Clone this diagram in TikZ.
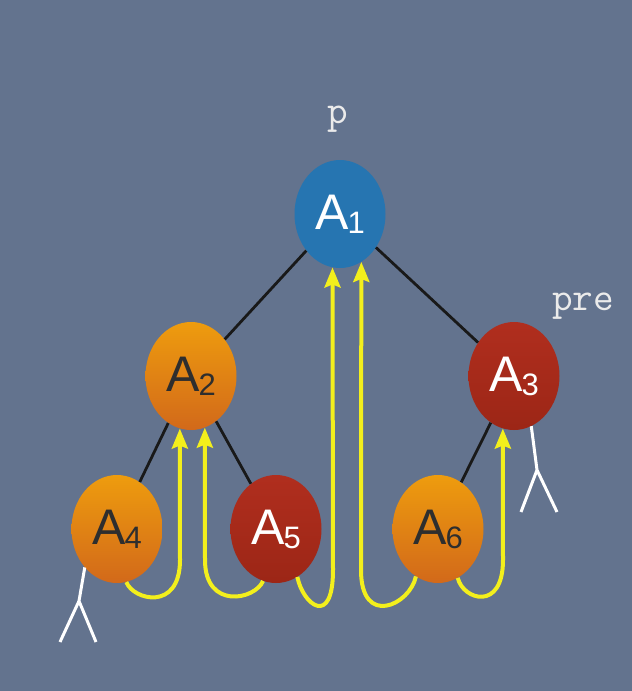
\documentclass[tikz,border=0pt]{standalone}
\usepackage{fontspec}
\newfontfamily\keyfont{Liberation Sans}
\usetikzlibrary{shapes.geometric,arrows.meta}
\definecolor{slate}{HTML}{63738E}
\definecolor{rootblue}{HTML}{2675B1}
\definecolor{ambertop}{HTML}{EE9C0E}
\definecolor{amberbot}{HTML}{D2691A}
\definecolor{rusttop}{HTML}{B02E1E}
\definecolor{rustbot}{HTML}{9C2616}
\definecolor{traceyellow}{HTML}{F3EF1C}
\newcommand{\keyname}[1]{A\kern-1pt{\fontsize{31}{31}\selectfont\raisebox{-4pt}{#1}}}

\begin{document}
\begin{tikzpicture}[x=1pt, y=-1pt,
  vert/.style={ellipse, minimum width=91pt, minimum height=108pt, inner sep=0pt, font=\keyfont\fontsize{50}{50}\selectfont},
  bluevert/.style={vert, fill=rootblue, text=white},
  ambervert/.style={vert, top color=ambertop, bottom color=amberbot, text=black!82},
  rustvert/.style={vert, top color=rusttop, bottom color=rustbot, text=white},
  treeedge/.style={line width=2.8pt, black!90},
  trace/.style={line width=4pt, traceyellow, -{Stealth[length=20pt, width=16pt, inset=3pt]}},
  stick/.style={line width=3pt, white},
  ptrlabel/.style={text=black!8, font=\ttfamily\fontsize{40}{40}\selectfont, inner sep=0pt}]
\useasboundingbox (0,0) rectangle (632,691);
\fill[slate] (0,0) rectangle (632,691);

\node[bluevert] (A1) at (340,214) {\keyname{1}};
\node[ambervert] (A2) at (191,376) {\keyname{2}}; \node[rustvert] (A3) at (514,376) {\keyname{3}};
\node[ambervert] (A4) at (117,529) {\keyname{4}}; \node[rustvert] (A5) at (276,529) {\keyname{5}}; \node[ambervert] (A6) at (438,529) {\keyname{6}};
\node[ptrlabel] (p) at (338,119) {p}; \node[ptrlabel] (pre) at (583,306) {pre};

\draw[treeedge] (A1) -- (A2); \draw[treeedge] (A1) -- (A3);
\draw[treeedge] (A2) -- (A4); \draw[treeedge] (A2) -- (A5); \draw[treeedge] (A3) -- (A6);

\draw[trace] (A4.-80) .. controls (133,600) and (180,612) .. (180,560) -- (A2.-102);
\draw[trace] (A5.-104) .. controls (255,600) and (205,610) .. (205,560) -- (A2.-75);
\draw[trace] (A5.-66) .. controls (303,605) and (333,628) .. (333,570) -- (A1.-98);
\draw[trace] (A6.-115) .. controls (410,605) and (361,628) .. (361,570) -- (A1.-66);
\draw[trace] (A6.-68) .. controls (463,600) and (503,612) .. (503,560) -- (A3.-102);

\coordinate (fork4) at (79,601); \coordinate (fork3) at (537,470);
\draw[stick] (A4.-130) -- (fork4) -- (60,642) (fork4) -- (96,642);
\draw[stick] (A3.-71) -- (fork3) -- (521,512) (fork3) -- (557,512);
\end{tikzpicture}
\end{document}
